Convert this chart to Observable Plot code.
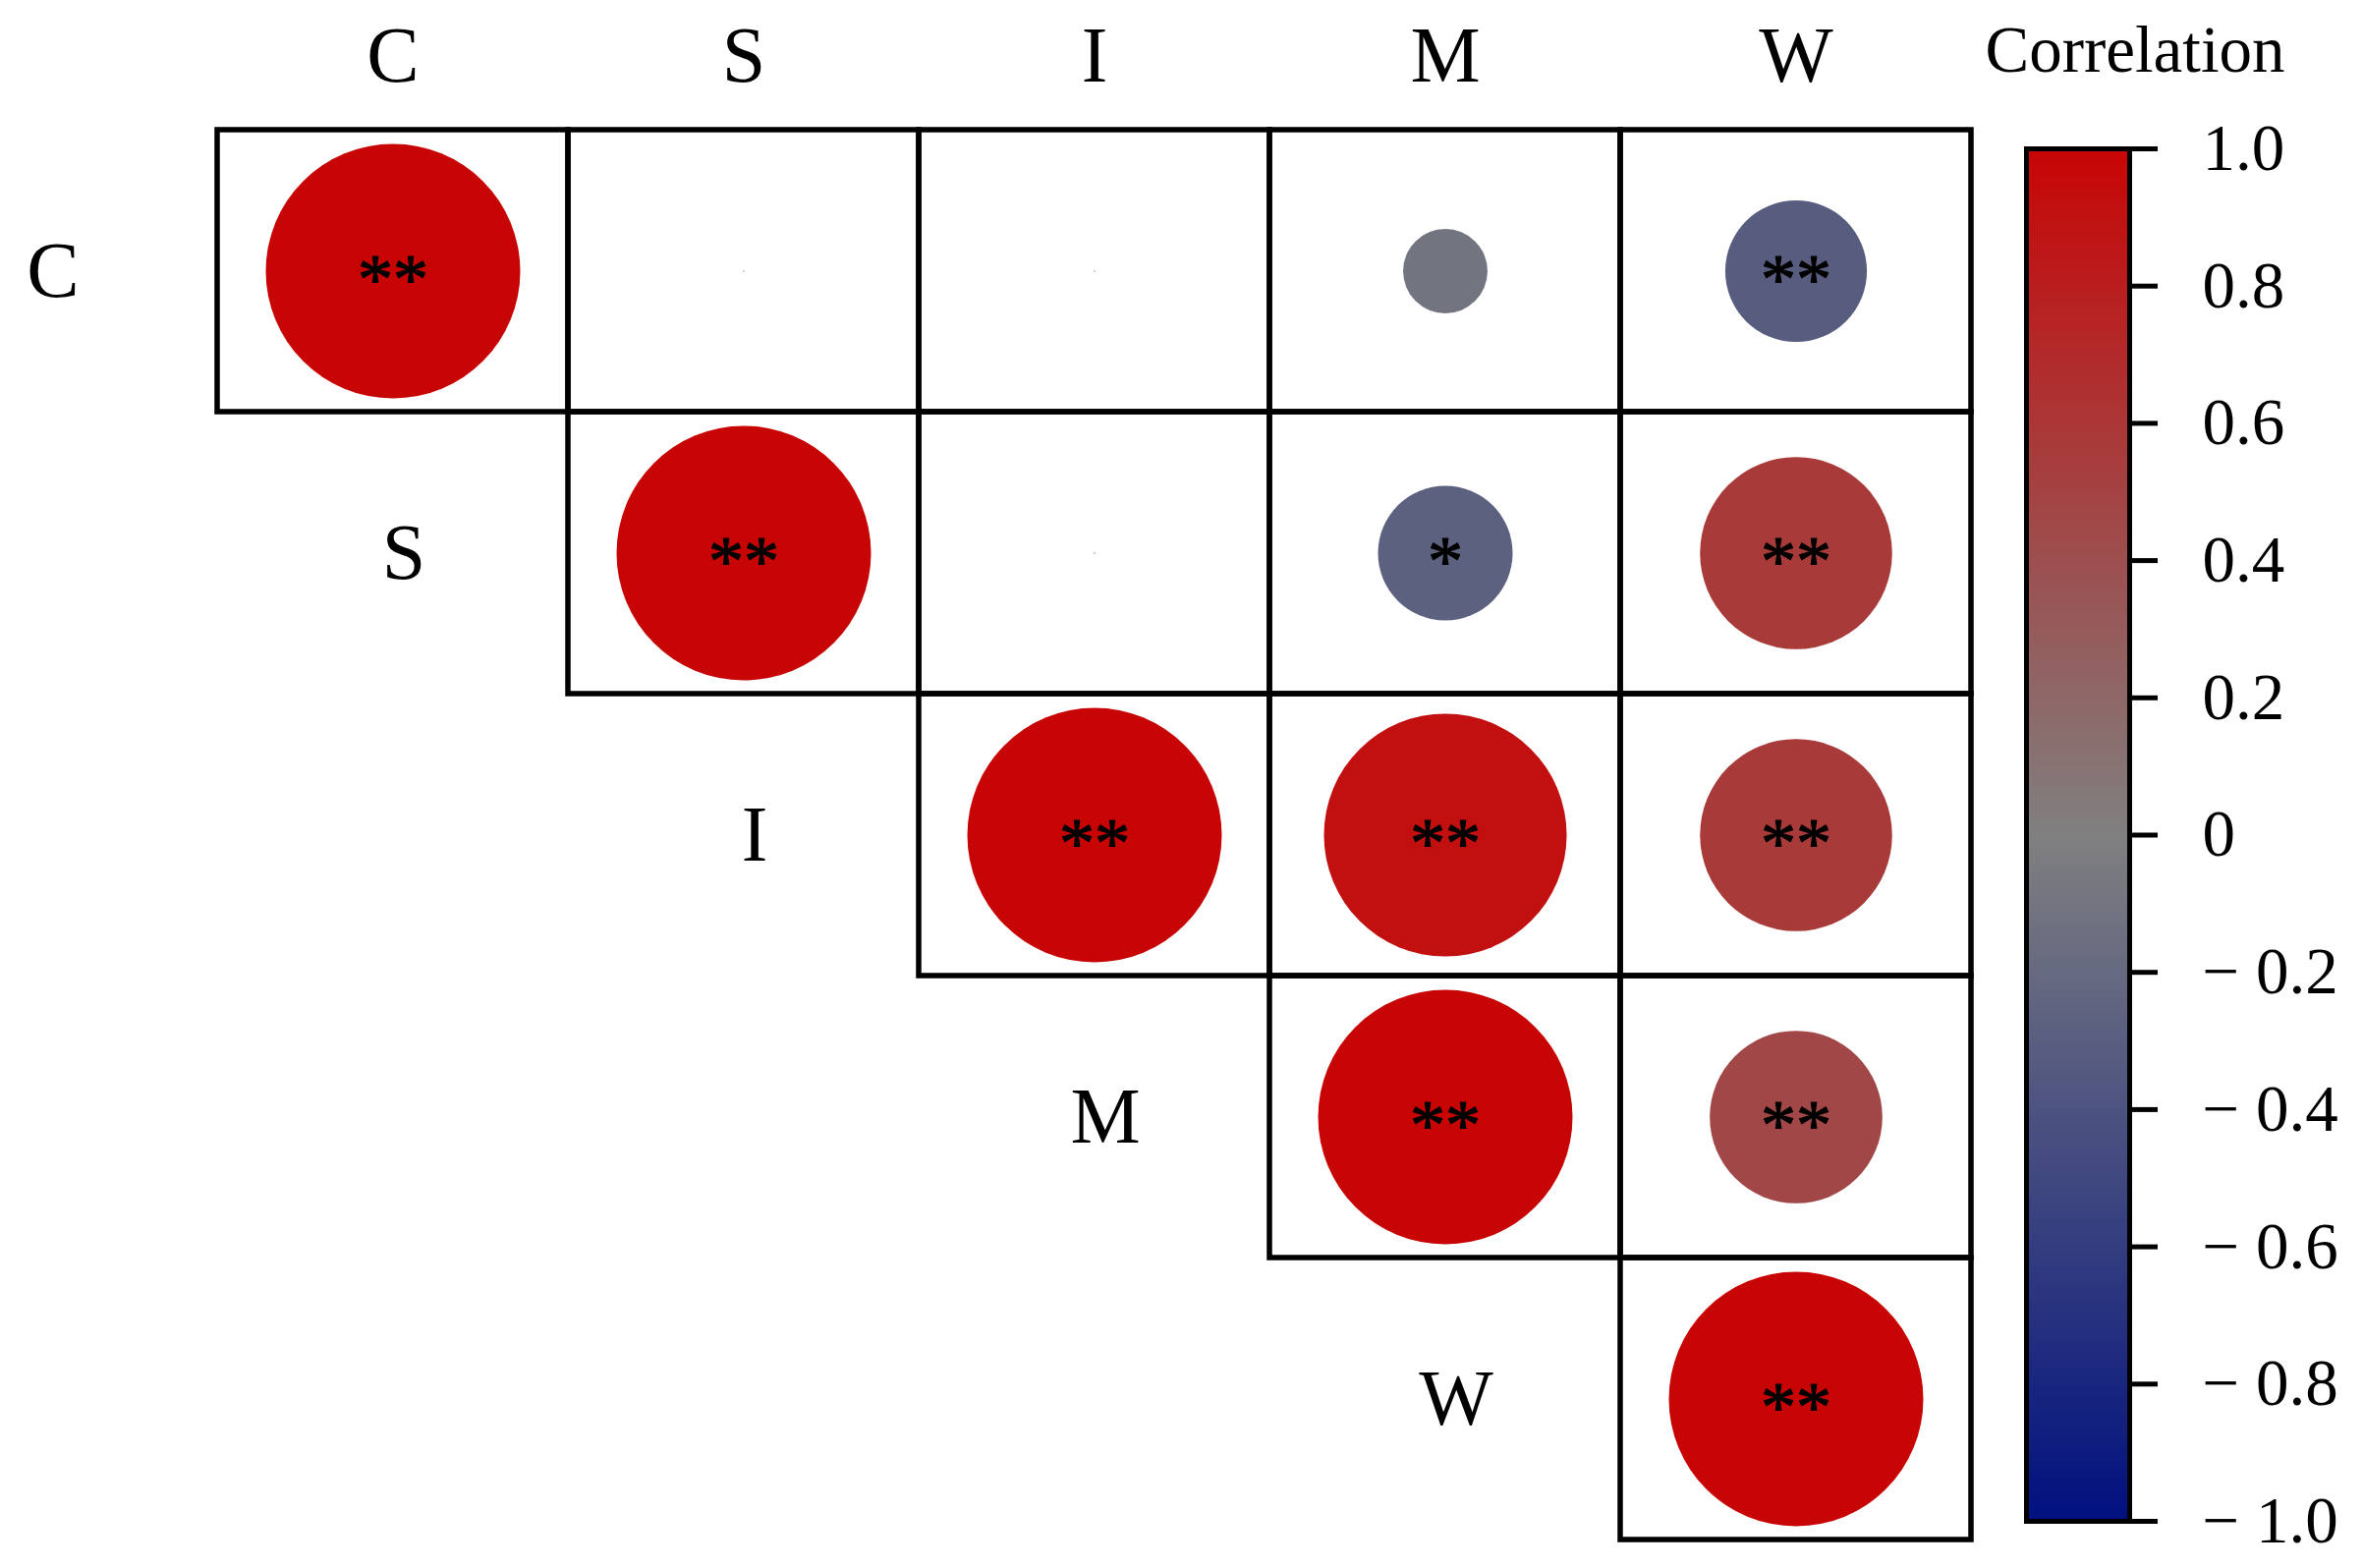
<!DOCTYPE html>
<html><head><meta charset="utf-8">
<script src="https://cdn.jsdelivr.net/npm/d3@7"></script>
<script src="https://cdn.jsdelivr.net/npm/@observablehq/plot@0.6"></script>
<style>
body{margin:0;background:#fff}
#wrap{position:relative;width:2405px;height:1596px}
#wrap svg{position:absolute;top:0}
</style>
</head><body><div id="wrap"></div>
<script>
// Variables (upper triangle of the correlation matrix)
const vars = ["C","S","I","M","W"];
const rowVar = ["C","C","C","C","C","S","S","S","S","I","I","I","M","M","W"];
const colVar = ["C","S","I","M","W","S","I","M","W","I","M","W","M","W","W"];
const corrValues = [1, 0.00003, 0.00003, -0.11, -0.31, 1, 0.00003, -0.28, 0.57, 1, 0.91, 0.57, 1, 0.46, 1];
const sigMarks = ["**","","","","**","**","","*","**","**","**","**","**","**","**"];
const colorTicks = [-1,-0.8,-0.6,-0.4,-0.2,0,0.2,0.4,0.6,0.8,1];
const colorStops = ["#00107f", "#808080", "#c80505"];
const legendTitle = "Correlation";

const cells = corrValues.map((v, i) => ({row: rowVar[i], col: colVar[i], value: v, sig: sigMarks[i]}));
const font = "'Liberation Serif', 'Times New Roman', serif";
const colorScale = {type: "linear", domain: [-1, 0, 1], range: colorStops, interpolate: "rgb"};

const main = Plot.plot({
  width: 2405, height: 1596,
  marginLeft: 219, marginRight: 397, marginTop: 130, marginBottom: 28,
  style: {fontFamily: font, background: "transparent", overflow: "visible", color: "black"},
  x: {type: "band", domain: vars, padding: 0},
  y: {type: "band", domain: vars, padding: 0, axis: null},
  r: {type: "sqrt", domain: [0, 1], range: [0, 129.5]},
  color: colorScale,
  marks: [
    Plot.cell(cells, {x: "col", y: "row", fill: "none", stroke: "black", strokeWidth: 5.5, inset: 0}),
    Plot.dot(cells, {x: "col", y: "row", r: d => Math.abs(d.value), fill: "value", stroke: null}),
    Plot.text(cells, {x: "col", y: "row", text: "sig", fontSize: 72, dy: 9, fill: "black", stroke: "black", strokeWidth: 1.2}),
    Plot.axisX({anchor: "top", tickSize: 0, tickPadding: 48, fontSize: 80, label: null}),
    Plot.text(vars, {x: d => d, y: d => d, text: d => d, dx: -346, fontSize: 80, fill: "black"})
  ]
});

const fmt = d => d === 0 ? "0" : (d < 0 ? "\u2212\u2005" : "") + Math.abs(d).toFixed(1);

const bar = Plot.plot({
  width: 405, height: 1596,
  marginLeft: 62, marginRight: 238, marginTop: 151, marginBottom: 48,
  style: {fontFamily: font, background: "transparent", overflow: "visible", color: "black"},
  x: {domain: [0, 1], axis: null},
  y: {domain: [-1, 1]},
  color: colorScale,
  marks: [
    Plot.raster({x1: 0, x2: 1, y1: -1, y2: 1, fill: (x, y) => y, pixelSize: 1}),
    Plot.frame({stroke: "black", strokeWidth: 5}),
    Plot.axisY(colorTicks, {anchor: "right", tickSize: 28, tickPadding: 46, strokeWidth: 5, fontSize: 67, tickFormat: fmt, label: null}),
    Plot.text([legendTitle], {frameAnchor: "top", dx: 58, dy: -79, lineAnchor: "bottom", fontSize: 67, fill: "black"})
  ]
});
bar.style.left = "2000px";

const wrap = document.getElementById("wrap");
wrap.appendChild(main);
wrap.appendChild(bar);
</script>
</body></html>
